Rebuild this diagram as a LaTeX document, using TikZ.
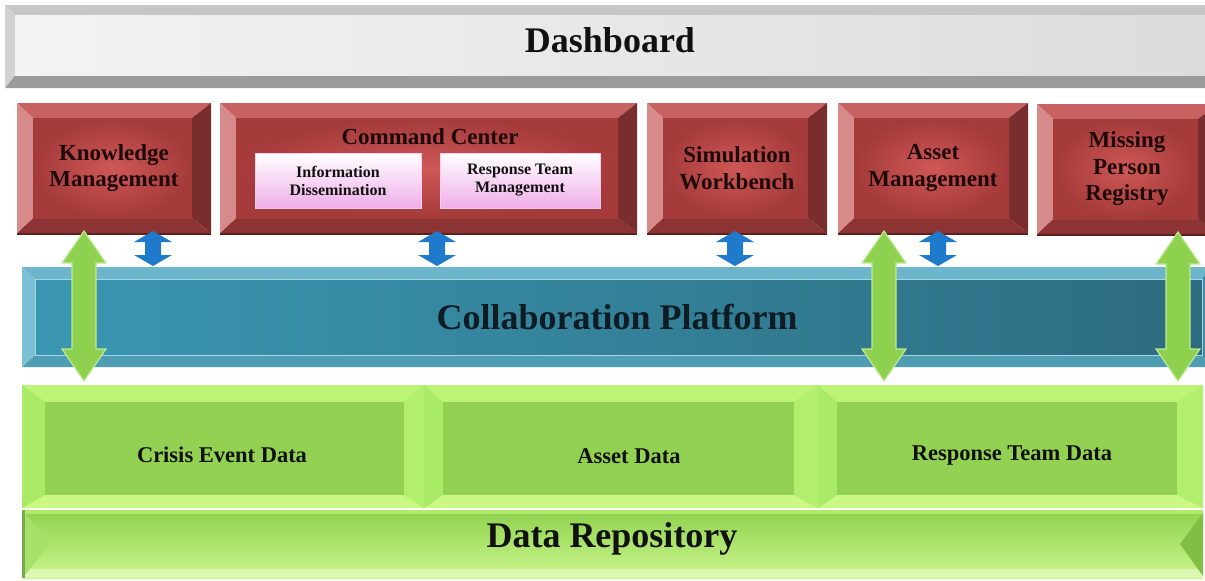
\documentclass[tikz,border=0pt]{standalone}
\usepackage{fontspec}
\setmainfont{Liberation Serif}
\usetikzlibrary{calc}
\pgfdeclarelayer{bg}
\pgfsetlayers{bg,main}
% gray (dashboard)
\definecolor{grayT}{HTML}{C6C6C6}\definecolor{grayL}{HTML}{D2D2D2}
\definecolor{grayR}{HTML}{B8B8B8}\definecolor{grayB}{HTML}{9B9B9B}
\definecolor{grayF1}{HTML}{F3F3F3}\definecolor{grayF2}{HTML}{DCDCDC}
% red
\definecolor{redT}{HTML}{C86262}\definecolor{redL}{HTML}{D68A8A}
\definecolor{redR}{HTML}{7A2D2D}\definecolor{redB}{HTML}{8C3434}
\definecolor{redF1}{HTML}{CE5856}\definecolor{redF2}{HTML}{A43A3A}
\definecolor{redS}{HTML}{5A1E1E}\definecolor{redtxt}{HTML}{1E0A0A}
% blue platform
\definecolor{bluT}{HTML}{6DB5CA}\definecolor{bluL}{HTML}{7CC0D3}
\definecolor{bluR}{HTML}{3E8AA0}\definecolor{bluB}{HTML}{4F9CB3}
\definecolor{bluF1}{HTML}{3A97B2}\definecolor{bluF2}{HTML}{2D6C80}
\definecolor{bluline}{HTML}{A6D6E4}\definecolor{blutxt}{HTML}{0E1C24}
% green
\definecolor{grnO}{HTML}{B7F070}
\definecolor{grnT}{HTML}{BDF476}\definecolor{grnL}{HTML}{A9EA67}
\definecolor{grnR}{HTML}{B2EF6D}\definecolor{grnB}{HTML}{CBF882}
\definecolor{grnF}{HTML}{93D153}
\definecolor{repo1}{HTML}{8ED34E}\definecolor{repo2}{HTML}{9EDD5C}
\definecolor{repo3}{HTML}{CDF58E}
% pink
\definecolor{pinkB}{HTML}{EFAEE9}\definecolor{pinkE}{HTML}{F6CDF2}
% arrows
\definecolor{arrblue}{HTML}{1F7ACB}
\definecolor{arrgrn}{HTML}{8ED14F}\definecolor{arrgrnE}{HTML}{BDE995}
\definecolor{dtxt}{HTML}{111111}

\tikzset{
  box/.style={rectangle, inner sep=0pt, outer sep=0pt, align=center},
  grayF/.style={left color=grayF1, right color=grayF2},
  redF/.style={inner color=redF1, outer color=redF2},
  bluF/.style={left color=bluF1, right color=bluF2},
  grnF/.style={fill=grnF},
  big/.style={font=\fontsize{36}{40}\selectfont\bfseries},
  redlbl/.style={font=\fontsize{23}{26.5}\selectfont\bfseries, text=redtxt},
  pinkbox/.style={box, top color=white, bottom color=pinkB, draw=pinkE, line width=0.8pt,
     font=\fontsize{16}{18}\selectfont\bfseries, text=dtxt},
  datalbl/.style={font=\fontsize{22.5}{26}\selectfont\bfseries, text=dtxt},
  bluearr/.style={fill=arrblue},
  grnarr/.style={fill=arrgrn, draw=arrgrnE, line width=1.2pt, line join=miter},
}

% bevelled box around a node: #1 node, #2 left, #3 top, #4 right, #5 bottom, #6 colour prefix
\newcommand\bvbox[6]{%
  \fill[#6T] (#1.north west) -- (#1.north east) -- ([xshift=-#4pt,yshift=-#3pt]#1.north east) -- ([xshift=#2pt,yshift=-#3pt]#1.north west) -- cycle;
  \fill[#6B] (#1.south west) -- (#1.south east) -- ([xshift=-#4pt,yshift=#5pt]#1.south east) -- ([xshift=#2pt,yshift=#5pt]#1.south west) -- cycle;
  \fill[#6L] (#1.north west) -- ([xshift=#2pt,yshift=-#3pt]#1.north west) -- ([xshift=#2pt,yshift=#5pt]#1.south west) -- (#1.south west) -- cycle;
  \fill[#6R] (#1.north east) -- ([xshift=-#4pt,yshift=-#3pt]#1.north east) -- ([xshift=-#4pt,yshift=#5pt]#1.south east) -- (#1.south east) -- cycle;
  \path[#6F] ([xshift=#2pt,yshift=-#3pt]#1.north west) rectangle ([xshift=-#4pt,yshift=#5pt]#1.south east);
}
% vertical double block arrow: #1 style, #2 top point, #3 bottom point, #4 half shaft, #5 half head, #6 head length
\newcommand\blockarrow[6]{%
  \path[#1] let \p1=(#2), \p2=(#3) in
   (\x1,\y1) -- (\x1+#5pt,\y1-#6pt) -- (\x1+#4pt,\y1-#6pt) -- (\x1+#4pt,\y2+#6pt)
   -- (\x1+#5pt,\y2+#6pt) -- (\x1,\y2) -- (\x1-#5pt,\y2+#6pt) -- (\x1-#4pt,\y2+#6pt)
   -- (\x1-#4pt,\y1-#6pt) -- (\x1-#5pt,\y1-#6pt) -- cycle;
}

\begin{document}
\begin{tikzpicture}[x=1pt,y=-1pt]
\clip (0,0) rectangle (1205,581);

% ---------- nodes ----------
\node[box, minimum width=1215pt, minimum height=83pt] (dash) at (612.5,46.5) {};
\node[big, text=dtxt] (dashT) at (610,40) {Dashboard};

\node[box, redlbl, minimum width=194pt, minimum height=130pt] (km) at (114,168) {Knowledge\\Management};
\node[box, minimum width=417pt, minimum height=130pt] (cc) at (428.5,168) {};
\node[redlbl] (ccT) at (430,137) {Command Center};
\node[pinkbox, minimum width=166pt, minimum height=55pt] (info) at (338,180.5) {Information\\Dissemination};
\node[pinkbox, minimum width=160pt, minimum height=55pt] (rtm) at (520,180.5) {Response Team\\Management};
\node[box, redlbl, minimum width=180pt, minimum height=130pt] (sim) at (737,168) {Simulation\\Workbench};
\node[box, redlbl, minimum width=190pt, minimum height=130pt] (am) at (933,168) {Asset\\Management};
\node[box, redlbl, minimum width=180pt, minimum height=130pt] (mpr) at (1127,169) {Missing\\Person\\Registry};

\node[box, big, text=blutxt, minimum width=1190pt, minimum height=100pt] (collab) at (617,317) {Collaboration Platform};

\node[box, minimum width=402pt, minimum height=123pt] (s1) at (223,446.5) {};
\node[box, minimum width=394pt, minimum height=123pt] (s2) at (621,446.5) {};
\node[box, minimum width=385pt, minimum height=123pt] (s3) at (1010.5,446.5) {};
\node[datalbl] (crisis) at (222,455) {Crisis Event Data};
\node[datalbl] (assetd) at (629,456) {Asset Data};
\node[datalbl] (rtd) at (1012,456) {Response Team Data};

\node[box, minimum width=1181pt, minimum height=68pt] (repo) at (612.5,544) {};
\node[font=\fontsize{36}{40}\selectfont\bfseries, text=dtxt] (repoT) at (612,539) {Data Repository};

% ---------- arrows ----------
\blockarrow{bluearr}{$(km.south)+(39,-2)$}{$(collab.north)+(0,-1)$}{8}{19}{11}
\blockarrow{bluearr}{$(cc.south)+(8.5,-2)$}{$(collab.north)+(0,-1)$}{8}{19}{11}
\blockarrow{bluearr}{$(sim.south)+(-2,-2)$}{$(collab.north)+(0,-1)$}{8}{19}{11}
\blockarrow{bluearr}{$(am.south)+(5,-2)$}{$(collab.north)+(0,-1)$}{8}{19}{11}

\blockarrow{grnarr}{$(km.south)+(-30,-2)$}{$(s1.north)+(0,-4)$}{12}{22}{32}
\blockarrow{grnarr}{$(am.south)+(-49,-2)$}{$(s3.north)+(0,-4)$}{12}{22}{32}
\blockarrow{grnarr}{$(mpr.south)+(51,-2)$}{$(s3.north)+(0,-4)$}{12}{22}{32}

% ---------- backgrounds ----------
\begin{pgfonlayer}{bg}
\fill[white] (0,0) rectangle (1205,581);
\bvbox{dash}{10}{10}{10}{13}{gray}

\foreach \n in {km,cc,sim,am,mpr}{
  \fill[redS] ([yshift=-2pt]\n.south west) rectangle (\n.south east);
  \bvbox{\n}{16}{15}{19}{15}{red}
}

\bvbox{collab}{13}{12}{10}{12}{blu}
\draw[bluline, line width=0.9pt] ([xshift=13pt,yshift=-12pt]collab.north west) rectangle ([xshift=-10pt,yshift=12pt]collab.south east);

\fill[grnO] (s1.north west) rectangle (s3.south east);
\bvbox{s1}{23}{17}{20}{13}{grn}
\bvbox{s2}{19}{17}{24}{13}{grn}
\bvbox{s3}{19}{17}{26}{13}{grn}

\shade[top color=repo1, middle color=repo2, bottom color=repo3] (repo.north west) rectangle (repo.south east);
\fill[grnO!80!repo1] (repo.north west) rectangle ([yshift=-4pt]repo.north east);
\fill[repo3!70!white] ([yshift=9pt]repo.south west) rectangle (repo.south east);
\fill[repo2!90!white] ([xshift=3pt,yshift=-3pt]repo.north west) -- ([xshift=28pt]repo.west) -- ([xshift=3pt,yshift=3pt]repo.south west) -- cycle;
\fill[repo1!75!black!90] (repo.north west) rectangle ([xshift=3pt]repo.south west);
\fill[repo1!90!black] ([yshift=-3pt]repo.north east) -- ([xshift=-23pt]repo.east) -- ([yshift=2pt]repo.south east) -- cycle;
\end{pgfonlayer}
\end{tikzpicture}
\end{document}
